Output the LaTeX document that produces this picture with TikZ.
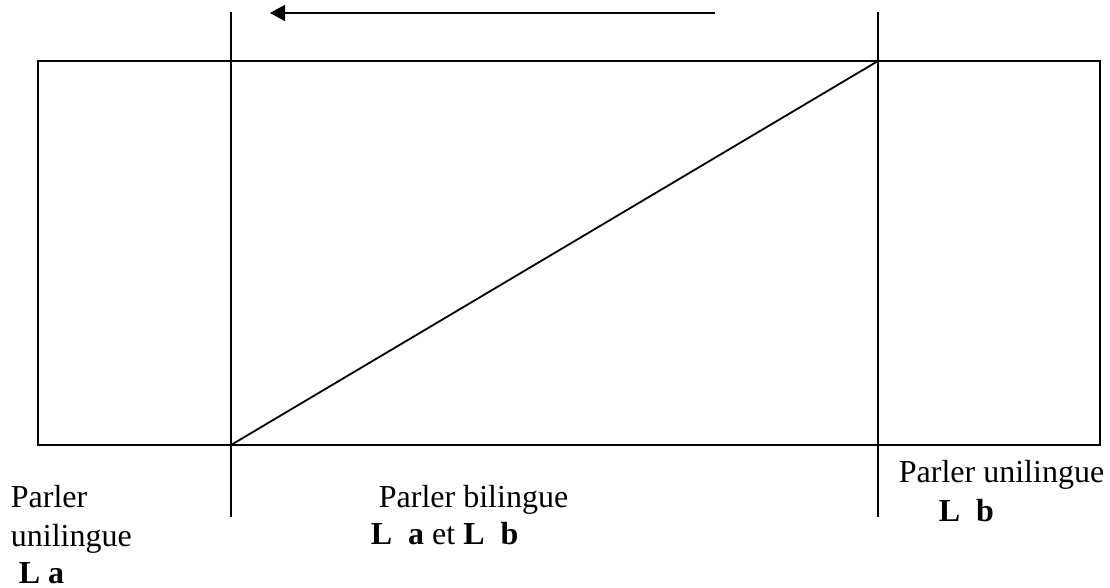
\documentclass[tikz,border=0pt]{standalone}
\usepackage{fontspec}
\setmainfont{Liberation Serif}
\usepackage{tikz}
\usetikzlibrary{arrows.meta}

\begin{document}
\begin{tikzpicture}[x=0.5pt, y=-0.5pt, line width=0.9pt, font=\fontsize{16}{18.5}\selectfont,
    lbl/.style={anchor=base west, inner sep=0pt}]
        \useasboundingbox (0,0) rectangle (1110,588);
        % cadre et limites
        \coordinate (cadreNO) at (38,61);
        \coordinate (cadreSE) at (1100,445);
        \coordinate (gaucheH) at (231,12);
        \coordinate (gaucheB) at (231,517);
        \coordinate (droiteH) at (878,12);
        \coordinate (droiteB) at (878,517);
        \coordinate (diagA) at (231,445);
        \coordinate (diagB) at (878,61);
        \coordinate (flecheD) at (715,13);
        \coordinate (flecheG) at (270,13);
        \draw (cadreNO) rectangle (cadreSE);
        \draw (gaucheH) -- (gaucheB);
        \draw (droiteH) -- (droiteB);
        \draw (diagA) -- (diagB);
        \draw[-{Triangle[length=7.5pt, width=8pt]}] (flecheD) -- (flecheG);
        % legendes
        \node[lbl] (uniA1) at (10,508) {Parler};
        \node[lbl] (uniA2) at (10,546) {unilingue};
        \node[lbl] (uniA3) at (18,583) {\textbf{L a}};
        \node[lbl] (bil1) at (378,508) {Parler bilingue};
        \node[lbl] (bil2) at (370,545) {\textbf{L\ \ a} et \textbf{L\ \ b}};
        \node[lbl] (uniB1) at (898,483) {Parler unilingue};
        \node[lbl] (uniB2) at (938,522) {\textbf{L\ \ b}};
      \end{tikzpicture}
\end{document}
